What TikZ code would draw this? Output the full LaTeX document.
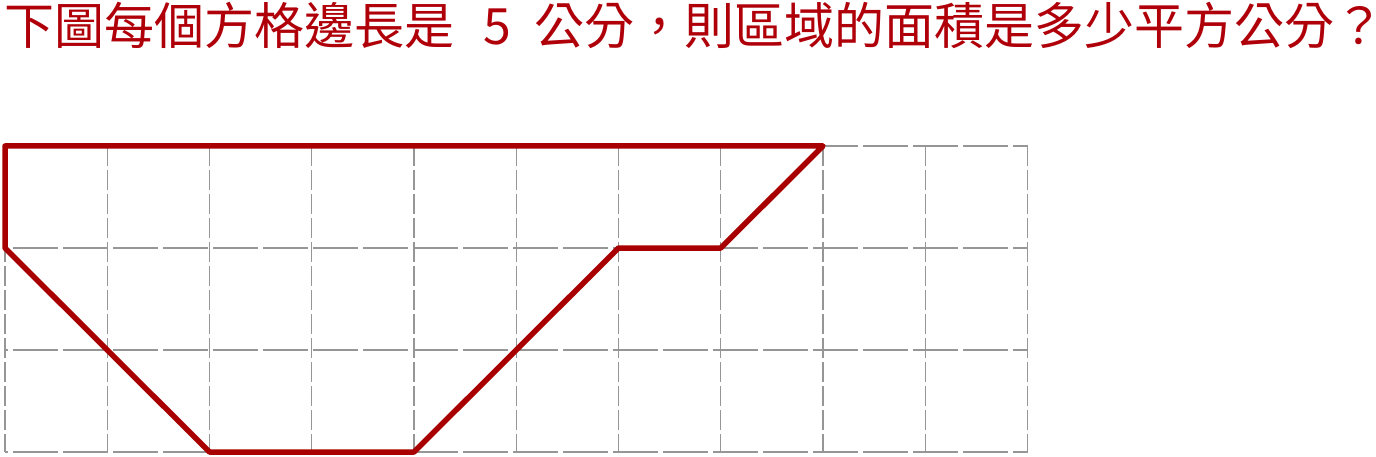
\documentclass[tikz,border=0pt]{standalone}
\usepackage{fontspec}
\newfontfamily\cjk{Noto Sans CJK TC}
\definecolor{redline}{RGB}{168,0,0}
\definecolor{redtext}{RGB}{175,0,10}
\definecolor{gridgray}{RGB}{150,150,150}
\tikzset{
  gridh/.style={draw=gridgray, line width=1.1pt, dash pattern=on 45pt off 5pt, dash phase=-8pt},
  gridv/.style={draw=gridgray, line width=1.1pt, dash pattern=on 20pt off 4pt},
  region/.style={draw=redline, line width=5.5pt, line join=round, line cap=round},
  titletext/.style={inner sep=0pt, anchor=base west, text height=40pt, text depth=6pt, text=redtext, font=\cjk\fontsize{50pt}{51pt}\selectfont}
}
\begin{document}
\begin{tikzpicture}[x=1pt,y=-1pt]
\useasboundingbox (0,0) rectangle (1376,457);
\node[titletext] (title) at (4.5,44.5) {下圖每個方格邊長是\hspace{29pt}5\hspace{23pt}公分，則區域的面積是多少平方公分\makebox[0.72em][l]{？}};
% grid
\foreach \j in {0,1,2,3} {
  \draw[gridh] (5,{146+102*\j}) -- (1027.5,{146+102*\j});
}
\foreach \i in {0,...,10} {
  \draw[gridv] ({5+102.25*\i},146) -- ({5+102.25*\i},452);
}
% region
\coordinate (p1) at (5,146);
\coordinate (p2) at ({5+102.25*8},146);
\coordinate (p3) at ({5+102.25*7},248);
\coordinate (p4) at ({5+102.25*6},248);
\coordinate (p5) at ({5+102.25*4},452);
\coordinate (p6) at ({5+102.25*2},452);
\coordinate (p7) at (5,248);
\draw[region] (p1) -- (p2) -- (p3) -- (p4) -- (p5) -- (p6) -- (p7) -- cycle;
\end{tikzpicture}
\end{document}
